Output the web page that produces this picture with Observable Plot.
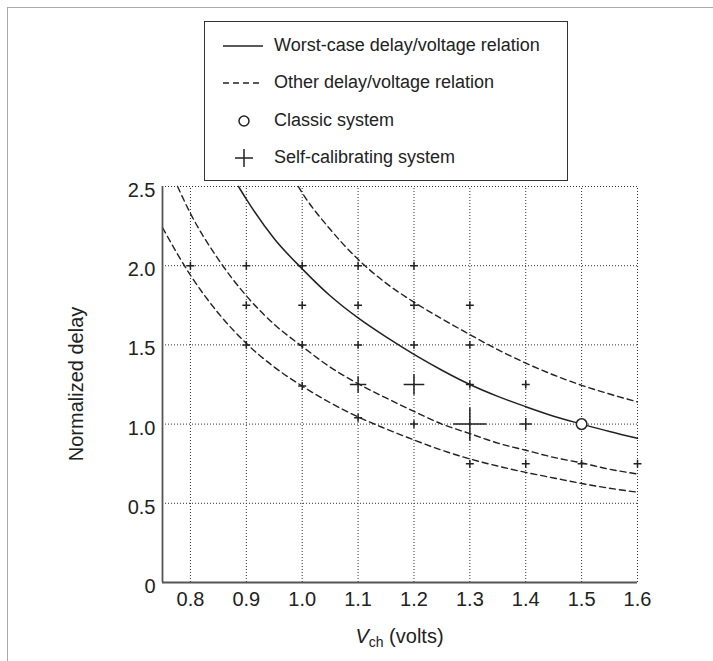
<!DOCTYPE html>
<html><head><meta charset="utf-8">
<script src="https://cdn.jsdelivr.net/npm/d3@7"></script>
<script src="https://cdn.jsdelivr.net/npm/@observablehq/plot@0.6"></script>
<style>
body{margin:0;background:#fff;font-family:"Liberation Sans",Arial,Helvetica,sans-serif;color:#222}
#wrap{position:relative;width:713px;height:661px;overflow:hidden}
#frame{position:absolute;left:7px;top:7px;width:900px;height:900px;border-left:1.5px solid #aaa;border-top:1.5px solid #aaa}
#chart{position:absolute;left:0;top:0}
#chart svg text{font-size:20px !important;fill:#222}
#legend{position:absolute;left:204px;top:21px;width:364px;height:160px;border:1.5px solid #333;box-sizing:border-box;background:#fff}
.row{position:absolute;left:0;height:30px;width:100%}
.row svg{position:absolute;left:0;top:0}
.row span{position:absolute;left:69px;top:4px;font-size:18px;line-height:21px;white-space:nowrap;color:#222}
#xlab{position:absolute;left:162px;width:475px;top:625px;text-align:center;font-size:20px;line-height:22px;color:#222}
#xlab sub{font-size:14px;vertical-align:-4px;line-height:0}
#ylab{position:absolute;left:76px;top:384px;transform:translate(-50%,-50%) rotate(-90deg);font-size:20px;white-space:nowrap;color:#222}
</style></head>
<body>
<div id="wrap">
  <div id="frame"></div>
  <div id="chart"></div>
  <div id="legend"></div>
  <div id="xlab"><i>V</i><sub>ch</sub> (volts)</div>
  <div id="ylab">Normalized delay</div>
</div>
<script>
// ---- data ----
const xTicks = [0.8, 0.9, 1.0, 1.1, 1.2, 1.3, 1.4, 1.5, 1.6];
const xTickLabels = ["0.8","0.9","1.0","1.1","1.2","1.3","1.4","1.5","1.6"];
const yTicks = [0, 0.5, 1.0, 1.5, 2.0, 2.5];
const yTickLabels = ["0","0.5","1.0","1.5","2.0","2.5"];

const legendLabels = ["Worst-case delay/voltage relation","Other delay/voltage relation","Classic system","Self-calibrating system"];

// worst-case delay/voltage relation (solid)
const worstV = [0.886,0.9,0.95,1.0,1.05,1.1,1.15,1.2,1.25,1.3,1.35,1.4,1.45,1.5,1.55,1.6];
const worstD = [2.5,2.42,2.17,1.98,1.81,1.67,1.55,1.44,1.34,1.25,1.175,1.11,1.05,1.0,0.953,0.91];
// other relations (dashed)
const upperV = [0.993,1.0,1.05,1.1,1.15,1.2,1.25,1.3,1.35,1.4,1.45,1.5,1.55,1.6];
const upperD = [2.5,2.46,2.23,2.04,1.89,1.77,1.665,1.565,1.47,1.385,1.31,1.245,1.19,1.14];
const midV = [0.777,0.8,0.85,0.9,0.95,1.0,1.05,1.1,1.15,1.2,1.25,1.3,1.35,1.4,1.45,1.5,1.55,1.6];
const midD = [2.5,2.33,2.04,1.81,1.63,1.49,1.36,1.255,1.165,1.08,1.0,0.94,0.88,0.835,0.79,0.755,0.715,0.685];
const lowV = [0.75,0.8,0.85,0.9,0.95,1.0,1.05,1.1,1.15,1.2,1.25,1.3,1.35,1.4,1.45,1.5,1.55,1.6];
const lowD = [2.24,1.94,1.70,1.51,1.36,1.24,1.135,1.045,0.97,0.9,0.835,0.78,0.735,0.695,0.66,0.625,0.595,0.57];

// classic system
const classicV = [1.5];
const classicD = [1.0];

// self-calibrating system points and their weights
const selfV = [0.8, 0.9,0.9,0.9, 1.0,1.0,1.0,1.0, 1.1,1.1,1.1,1.1,1.1, 1.2,1.2,1.2,1.2,1.2, 1.3,1.3,1.3,1.3,1.3, 1.4,1.4,1.4, 1.5, 1.6];
const selfD = [2.0, 2.0,1.75,1.5, 2.0,1.75,1.5,1.24, 2.0,1.75,1.5,1.25,1.04, 2.0,1.75,1.5,1.25,1.0, 1.75,1.5,1.25,1.0,0.75, 1.25,1.0,0.75, 0.75, 0.75];
const selfW = [1, 1,1,1, 1,1,1,1, 1,1,1,3,1, 1,1,1,4,1, 1,1,1,7,1, 1,2,1, 1, 1];

// ---- build tables ----
const mk = (V, D, extra) => V.map((v, i) => ({v, d: D[i], ...(extra ? extra(i) : {})}));
const worst = mk(worstV, worstD);
const others = [
  ...mk(upperV, upperD, () => ({c: "upper"})),
  ...mk(midV, midD, () => ({c: "mid"})),
  ...mk(lowV, lowD, () => ({c: "low"}))
];
const classic = mk(classicV, classicD);
const selfCal = mk(selfV, selfD, i => ({w: selfW[i]}));

const ink = "#222";
const font = '"Liberation Sans", Arial, Helvetica, sans-serif';

const chart = Plot.plot({
  width: 713, height: 661,
  marginLeft: 162, marginRight: 76, marginTop: 186, marginBottom: 79,
  x: {domain: [0.75, 1.6]},
  y: {domain: [0, 2.5]},
  r: {type: "linear", domain: [1, 7], range: [2.68, 10.7]},
  style: {fontSize: "20px", fontFamily: font, color: ink, background: "transparent", overflow: "visible"},
  marks: [
    Plot.ruleX(xTicks, {y1: 0, y2: 2.5, stroke: "#333", strokeWidth: 1, strokeDasharray: "1,2"}),
    Plot.ruleY(yTicks.filter(d => d > 0), {x1: 0.75, x2: 1.6, stroke: "#333", strokeWidth: 1, strokeDasharray: "1,2"}),
    Plot.line(others, {x: "v", y: "d", z: "c", curve: "monotone-x", stroke: ink, strokeWidth: 1.4, strokeDasharray: "6,4"}),
    Plot.line(worst, {x: "v", y: "d", curve: "monotone-x", stroke: ink, strokeWidth: 1.5}),
    Plot.ruleX([0.75], {y1: 0, y2: 2.5, stroke: "#555", strokeWidth: 1.8}),
    Plot.ruleY([0], {x1: 0.75, x2: 1.6, stroke: "#555", strokeWidth: 1.8}),
    Plot.dot(selfCal, {x: "v", y: "d", r: "w", symbol: "plus", stroke: ink, strokeWidth: 1.5}),
    Plot.dot(classic, {x: "v", y: "d", r: 5.3, fill: "white", stroke: ink, strokeWidth: 1.5}),
    Plot.axisX({ticks: xTicks, tickSize: 0, tickPadding: 9, fontSize: 20, tickFormat: d => xTickLabels[xTicks.indexOf(d)], label: null}),
    Plot.axisY({ticks: yTicks, tickSize: 0, tickPadding: 7, dy: 4, fontSize: 20, tickFormat: d => yTickLabels[yTicks.indexOf(d)], label: null})
  ]
});
document.getElementById("chart").appendChild(chart);

// ---- legend ----
const legend = document.getElementById("legend");
const rowTops = [9, 46, 84, 121];
const samples = [
  '<line x1="18" y1="15" x2="58" y2="15" stroke="#222" stroke-width="1.5"/>',
  '<line x1="18" y1="15" x2="58" y2="15" stroke="#222" stroke-width="1.4" stroke-dasharray="6,4"/>',
  '<circle cx="39" cy="15" r="5" fill="white" stroke="#222" stroke-width="1.5"/>',
  '<path d="M30,15H48M39,6V24" stroke="#222" stroke-width="1.5" fill="none"/>'
];
legendLabels.forEach((lab, i) => {
  const row = document.createElement("div");
  row.className = "row";
  row.style.top = rowTops[i] + "px";
  row.innerHTML = '<svg width="66" height="30">' + samples[i] + '</svg>';
  const s = document.createElement("span");
  s.textContent = lab;
  row.appendChild(s);
  legend.appendChild(row);
});
</script>
</body></html>
